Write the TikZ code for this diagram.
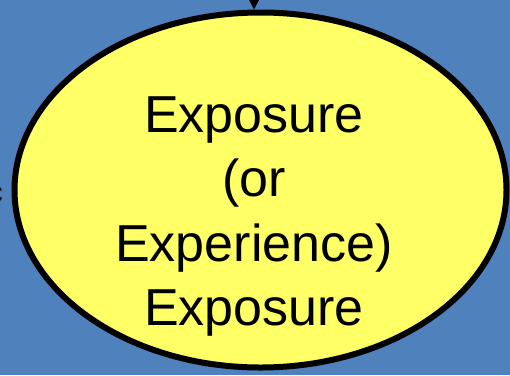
\documentclass[tikz,border=0pt]{standalone}
\usepackage{fontspec}
\setmainfont{Liberation Sans}
\usetikzlibrary{shapes.geometric,arrows.meta}
\definecolor{slideblue}{RGB}{79,129,189}
\definecolor{bubble}{RGB}{255,255,102}
\tikzset{
  bubblenode/.style={ellipse, draw=black, line width=6pt, fill=bubble,
    inner sep=0pt, minimum width=492pt, minimum height=355pt},
  bubbletext/.style={align=center, inner sep=0pt, text=black,
    font=\fontsize{52pt}{64.4pt}\selectfont},
  feed/.style={draw=black, line width=1.5pt,
    -{Triangle[width=10pt,length=10pt]}},
}
\begin{document}
\begin{tikzpicture}[x=1pt,y=-1pt]
  \useasboundingbox (0,0) rectangle (510,375);
  \clip (0,0) rectangle (510,375);
  \fill[slideblue] (0,0) rectangle (510,375);
  % neighbouring label, mostly off the edge
  \node[anchor=base east, inner sep=0pt, font=\fontsize{30pt}{36pt}\selectfont] (side) at (3,202) {c};
  % the exposure bubble
  \node[bubblenode] (exp) at (260.5,190) {};
  \node[bubbletext, anchor=north] (label) at (254,96.5)
    {Exposure\\(or\\Experience)\\Exposure};
  % incoming arrow from above
  \coordinate (src) at (254,-40);
  \draw[feed] (src) -- (exp.north -| src);
\end{tikzpicture}
\end{document}
